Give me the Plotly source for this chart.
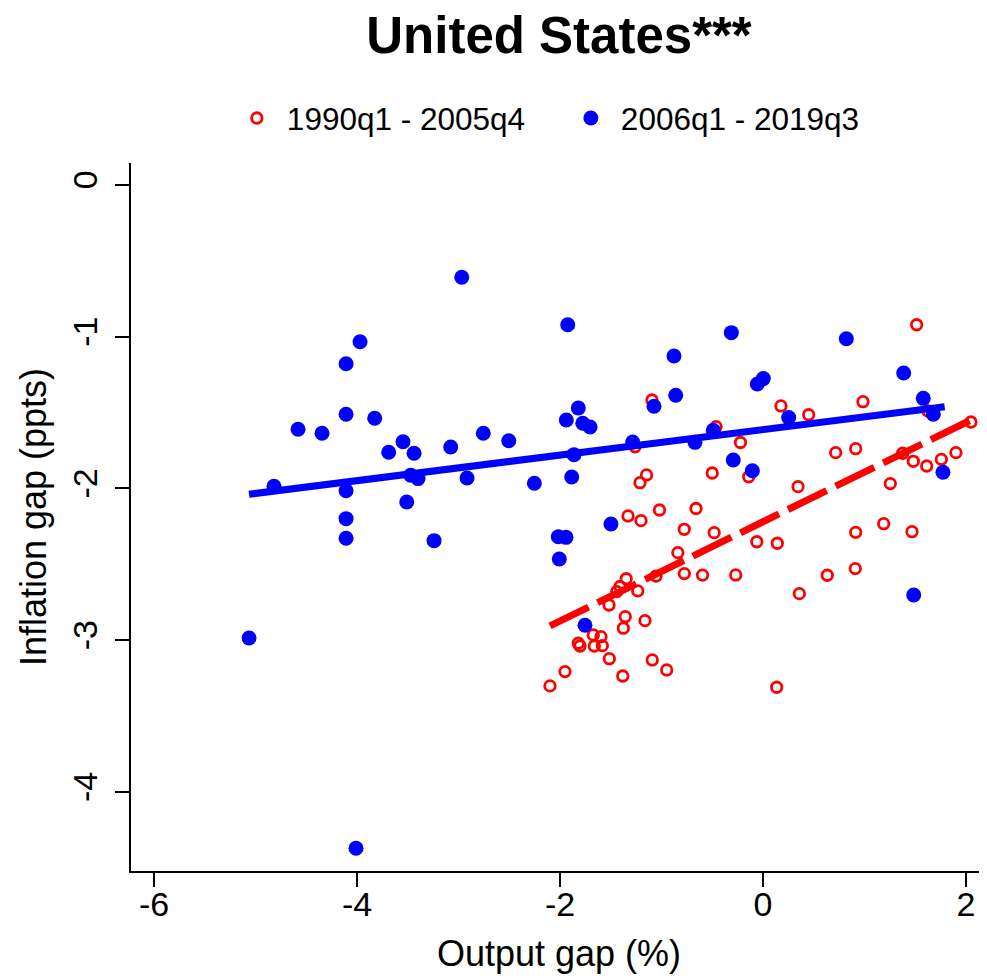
import plotly.graph_objects as go

# ---- Data ----
# 1990q1 - 2005q4 (red open circles)
red_x = [-1.094, -1.261, -0.463, -1.148, -1.212, -0.500, -1.330, -1.202, -1.020, -0.660,
         -0.776, -0.481, -0.839, -0.775, -0.596, -1.348, -1.054, 1.514, 0.177, 0.985,
         0.450, 1.626, 2.049, -0.222, 0.716, 0.913, 1.376, 1.481, 1.613, 1.757,
         1.901, -0.141, 0.345, 1.254, -0.061, 0.141, 0.913, 1.189, 1.468, -0.269,
         0.633, 0.909, 0.358, 0.135, -1.441, -1.234, -1.517, -1.357, -1.376, -1.163,
         -1.820, -1.803, -1.672, -1.596, -1.662, -1.583, -1.514, -1.091, -0.949, -1.382,
         -1.951, -2.099, -1.409]
red_y = [-1.417, -1.725, -1.593, -1.911, -1.962, -1.898, -2.181, -2.212, -2.142, -2.132,
         -2.269, -2.291, -2.423, -2.561, -2.571, -2.595, -2.577, -0.921, -1.456, -1.428,
         -1.514, -1.489, -1.562, -1.697, -1.764, -1.738, -1.768, -1.821, -1.852, -1.808,
         -1.764, -1.923, -1.988, -1.968, -2.351, -2.361, -2.289, -2.232, -2.285, -2.570,
         -2.572, -2.528, -2.693, -3.310, -2.680, -2.675, -2.768, -2.845, -2.921, -2.871,
         -3.020, -3.038, -2.965, -2.977, -3.038, -3.036, -3.122, -3.130, -3.196, -3.236,
         -3.207, -3.301, -2.646]

# 2006q1 - 2019q3 (blue filled circles)
blue_x = [-5.064, -4.818, -4.581, -4.345, -4.108, -4.108, -4.108, -4.108, -4.108, -3.970,
          -3.826, -3.688, -3.547, -3.510, -3.471, -3.438, -3.399, -3.241, -3.077, -2.968,
          -2.916, -2.756, -2.505, -2.253, -2.017, -2.007, -1.941, -1.938, -1.924, -1.885,
          -1.862, -1.820, -1.776, -1.754, -1.704, -1.498, -1.284, -1.074, -0.877, -0.860,
          -0.670, -0.490, -0.312, -0.293, -0.105, -0.056, 0.003, 0.253, 0.821, 1.386,
          1.485, 1.579, 1.678, 1.773, -4.010]
blue_y = [-2.985, -1.986, -1.610, -1.636, -1.178, -1.511, -2.015, -2.199, -2.328, -1.033,
          -1.537, -1.761, -1.692, -2.089, -1.913, -1.768, -1.935, -2.344, -1.727, -0.608,
          -1.931, -1.636, -1.685, -1.966, -2.318, -2.465, -2.322, -1.549, -0.921, -1.924,
          -1.777, -1.470, -1.570, -2.901, -1.595, -2.234, -1.694, -1.458, -1.127, -1.386,
          -1.696, -1.616, -0.973, -1.812, -1.883, -1.311, -1.276, -1.533, -1.013, -1.239,
          -2.702, -1.406, -1.511, -1.893, -4.371]

# Fitted lines (end points)
red_fit_x = [-2.099, 2.049]
red_fit_y = [-2.906, -1.549]
blue_fit_x = [-5.064, 1.79]
blue_fit_y = [-2.038, -1.461]

x_ticks = [-6, -4, -2, 0, 2]
y_ticks = [0, -1, -2, -3, -4]

legend_labels = ["1990q1 - 2005q4", "2006q1 - 2019q3"]
title_text = "<b>United States***</b>"
x_title = "Output gap (%)"
y_title = "Inflation gap (ppts)"

FONT = "Liberation Sans, Arial, Helvetica, sans-serif"

fig = go.Figure()
fig.add_trace(go.Scatter(
    x=red_x, y=red_y, mode="markers", name=legend_labels[0],
    marker=dict(symbol="circle-open", size=10.5, color="#ff0000",
                line=dict(width=2.8, color="#ff0000")),
))
fig.add_trace(go.Scatter(
    x=blue_x, y=blue_y, mode="markers", name=legend_labels[1],
    marker=dict(symbol="circle", size=15, color="#0000ff", line=dict(width=0)),
))
fig.add_trace(go.Scatter(
    x=red_fit_x, y=red_fit_y, mode="lines", showlegend=False,
    line=dict(color="#ff0000", width=7, dash="43px,10px"),
))
fig.add_trace(go.Scatter(
    x=blue_fit_x, y=blue_fit_y, mode="lines", showlegend=False,
    line=dict(color="#0000ff", width=7),
))

# The page adds an 8px body margin, so the figure is 8px smaller than the window.
fig.update_layout(
    width=979, height=972,
    margin=dict(l=123, r=0, t=155, b=109),
    paper_bgcolor="white", plot_bgcolor="white",
    font=dict(family=FONT, color="black", size=30),
    title=dict(text=title_text, x=(551 / 979), xanchor="center",
               y=1 - 27 / 972, yanchor="middle", yref="container",
               font=dict(size=51, family=FONT, color="black")),
    legend=dict(orientation="h", x=0.112, xanchor="left",
                y=1 + (155 - 110) / 708, yanchor="middle",
                font=dict(size=31.5, family=FONT, color="black"),
                bgcolor="rgba(0,0,0,0)", entrywidth=269, itemwidth=50,
                itemsizing="trace"),
    showlegend=True,
)
fig.update_xaxes(
    range=[-6.227, 2.207], tickmode="array", tickvals=x_ticks,
    ticktext=[str(v) for v in x_ticks],
    showgrid=False, zeroline=False, showline=True, linecolor="black", linewidth=2,
    ticks="outside", ticklen=14, tickwidth=2, tickcolor="black",
    ticklabelstandoff=-12,
    tickfont=dict(size=34, family=FONT, color="black"),
    title=dict(text=x_title, font=dict(size=36, family=FONT, color="black"), standoff=19),
)
fig.update_yaxes(
    range=[-4.521, 0.145], tickmode="array", tickvals=y_ticks,
    ticktext=[str(v) for v in y_ticks], tickangle=-90,
    showgrid=False, zeroline=False, showline=True, linecolor="black", linewidth=2,
    ticks="outside", ticklen=14, tickwidth=2, tickcolor="black",
    ticklabelstandoff=4,
    tickfont=dict(size=34, family=FONT, color="black"),
    title=dict(text=y_title, font=dict(size=36, family=FONT, color="black"), standoff=9),
)

fig.write_html("out.html")
